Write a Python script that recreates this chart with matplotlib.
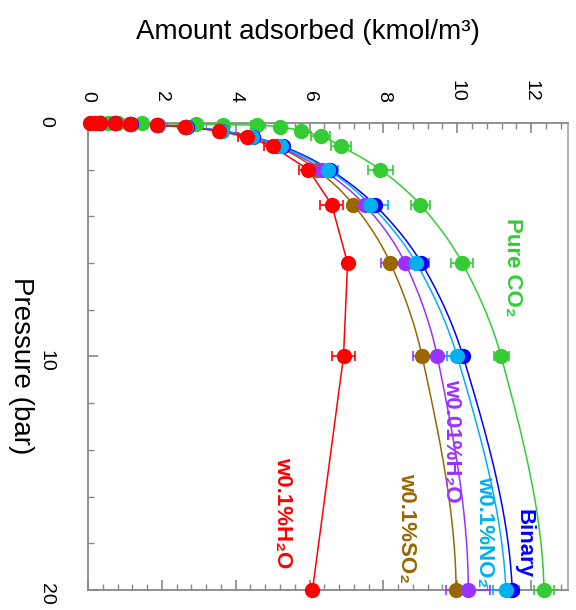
import numpy as np
import matplotlib
matplotlib.use("Agg")
import matplotlib.pyplot as plt
from matplotlib.ticker import MultipleLocator

plt.rcParams['font.family'] = ['Liberation Sans', 'DejaVu Sans']

# ---- data: pressure (bar), amount adsorbed (kmol/m3), error (kmol/m3) ----
p_co2 = [0.005, 0.01, 0.02, 0.05, 0.07, 0.09, 0.17, 0.34, 0.56, 1.0, 2.0, 3.5, 6.0, 10.0, 20.0]
q_co2 = [0.54, 0.81, 1.46, 2.92, 3.65, 4.57, 5.19, 5.78, 6.30, 6.86, 7.92, 9.00, 10.14, 11.19, 12.35]
e_co2 = [0, 0, 0, 0, 0, 0.15, 0, 0.1, 0.25, 0.27, 0.35, 0.26, 0.30, 0.20, 0.27]

p_mix = [0.01, 0.02, 0.04, 0.09, 0.17, 0.34, 0.6, 1.0, 2.0, 3.5, 6.0, 10.0, 20.0]
q_binary = [0.32, 0.74, 1.16, 1.90, 2.68, 3.64, 4.48, 5.28, 6.55, 7.76, 9.03, 10.16, 11.49]
e_binary = [0] * 13
q_no2 = [0.32, 0.73, 1.15, 1.89, 2.66, 3.62, 4.45, 5.22, 6.49, 7.65, 8.89, 10.00, 11.32]
e_no2 = [0, 0, 0, 0, 0, 0, 0, 0, 0.27, 0.47, 0.27, 0.27, 0.35]
q_h2o_low = [0.32, 0.73, 1.14, 1.88, 2.65, 3.60, 4.40, 5.15, 6.35, 7.49, 8.59, 9.46, 10.30]
e_h2o_low = [0, 0, 0, 0, 0, 0, 0, 0, 0.3, 0.3, 0.65, 0.65, 0.60]
q_so2 = [0.32, 0.73, 1.14, 1.87, 2.64, 3.58, 4.38, 5.12, 6.19, 7.19, 8.19, 9.05, 9.97]
e_so2 = [0] * 13

p_h2o = [0.002, 0.005, 0.01, 0.02, 0.04, 0.09, 0.17, 0.34, 0.6, 1.0, 2.0, 3.5, 6.0, 10.0, 20.0]
q_h2o = [0.05, 0.19, 0.32, 0.73, 1.14, 1.86, 2.62, 3.54, 4.30, 5.00, 5.97, 6.60, 7.03, 6.92, 6.08]
e_h2o = [0, 0, 0, 0, 0, 0, 0, 0, 0.25, 0.23, 0.26, 0.31, 0, 0.30, 0]

labels = ["Pure CO\u2082", "Binary", "w0.1%NO\u2082", "w0.01%H\u2082O", "w0.1%SO\u2082", "w0.1%H\u2082O"]
x_ticks = [0, 2, 4, 6, 8, 10, 12]
y_ticks = [0, 10, 20]


def pchip(x, y, xn):
    """Shape-preserving piecewise cubic Hermite curve through (x, y)."""
    x = np.asarray(x, float)
    y = np.asarray(y, float)
    h = np.diff(x)
    dl = np.diff(y) / h
    n = len(x)
    d = np.zeros(n)
    for k in range(1, n - 1):
        if dl[k - 1] * dl[k] > 0:
            w1 = 2 * h[k] + h[k - 1]
            w2 = h[k] + 2 * h[k - 1]
            d[k] = (w1 + w2) / (w1 / dl[k - 1] + w2 / dl[k])
    def end(h0, h1, d0, d1):
        v = ((2 * h0 + h1) * d0 - h0 * d1) / (h0 + h1)
        if np.sign(v) != np.sign(d0):
            v = 0.0
        elif np.sign(d0) != np.sign(d1) and abs(v) > abs(3 * d0):
            v = 3 * d0
        return v
    d[0] = end(h[0], h[1], dl[0], dl[1])
    d[-1] = end(h[-1], h[-2], dl[-1], dl[-2])
    idx = np.clip(np.searchsorted(x, xn) - 1, 0, n - 2)
    t = (xn - x[idx]) / h[idx]
    h00 = 2 * t**3 - 3 * t**2 + 1
    h10 = t**3 - 2 * t**2 + t
    h01 = -2 * t**3 + 3 * t**2
    h11 = t**3 - t**2
    return (h00 * y[idx] + h10 * h[idx] * d[idx] + h01 * y[idx + 1]
            + h11 * h[idx] * d[idx + 1])


fig = plt.figure(figsize=(5.76, 6.10), dpi=100)
ax = fig.add_axes([0.1528, 0.0328, 0.8333, 0.7656])

series = [
    (p_co2, q_co2, e_co2, '#33CC33', True),
    (p_mix, q_so2, e_so2, '#996600', True),
    (p_mix, q_h2o_low, e_h2o_low, '#9933FF', True),
    (p_mix, q_binary, e_binary, '#0000FF', True),
    (p_mix, q_no2, e_no2, '#00B0F0', True),
    (p_h2o, q_h2o, e_h2o, '#FF0000', False),
]

for p, q, e, col, smooth in series:
    p = np.asarray(p, float)
    q = np.asarray(q, float)
    if smooth:
        pn = np.unique(np.concatenate([np.geomspace(p[0], p[-1], 600),
                                       np.linspace(p[0], p[-1], 600)]))
        ax.plot(pchip(p, q, pn), pn, color=col, lw=1.1, zorder=2, clip_on=False)
    else:
        ax.plot(q, p, color=col, lw=1.1, zorder=2, clip_on=False)
    ax.errorbar(q, p, xerr=e, fmt='o', color=col, ms=10, mec=col,
                elinewidth=1.2, capsize=3.5, capthick=1.2, zorder=3,
                clip_on=False)

ax.set_xlim(0, 13)
ax.set_ylim(20, 0)

ax.xaxis.set_major_locator(MultipleLocator(2))
ax.xaxis.set_minor_locator(MultipleLocator(0.4))
ax.set_xticks(x_ticks)
ax.yaxis.set_major_locator(MultipleLocator(10))
ax.yaxis.set_minor_locator(MultipleLocator(2))
ax.set_yticks(y_ticks)

ax.tick_params(axis='x', which='both', top=True, bottom=True, labeltop=True,
               labelbottom=False, direction='in', color='#888888')
ax.tick_params(axis='y', which='both', left=True, right=False, labelleft=True,
               direction='in', color='#888888')
ax.tick_params(which='major', length=7, width=1.2, labelsize=14)
ax.tick_params(which='minor', length=4, width=1.0)
ax.tick_params(axis='x', which='major', pad=15, labelrotation=-90)
ax.tick_params(axis='y', which='major', pad=24, labelrotation=-90)

for s in ax.spines.values():
    s.set_color('#888888')
    s.set_linewidth(1.3)
ax.spines['right'].set_color('#aaaaaa')

fig.text(0.535, 0.947, "Amount adsorbed (kmol/m\u00b3)", fontsize=20,
         ha='center', va='center')
fig.text(0.036, 0.40, "Pressure (bar)", fontsize=20, rotation=-90,
         ha='center', va='center')

label_pos = [(11.51, 6.2), (11.81, 18.0), (10.73, 17.5), (9.86, 13.6),
             (8.62, 17.35), (5.27, 16.7)]
label_col = ['#33CC33', '#0000FF', '#00B0F0', '#9933FF', '#996600', '#FF0000']
for txt, (xq, yp), col in zip(labels, label_pos, label_col):
    ax.text(xq, yp, txt, color=col, fontsize=16, fontweight='bold',
            rotation=-90, ha='center', va='center', zorder=4)

fig.savefig("out.png", dpi=100)
